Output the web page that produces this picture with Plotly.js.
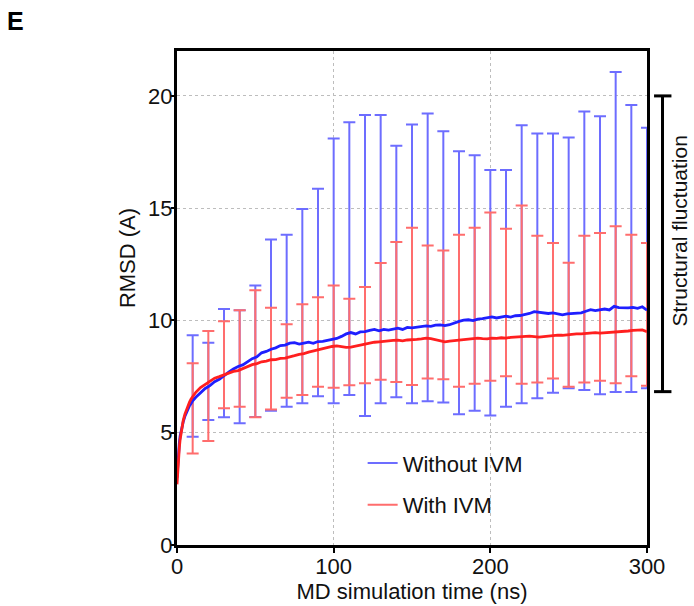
<!DOCTYPE html>
<html>
<head>
<meta charset="utf-8">
<script src="https://cdn.plot.ly/plotly-3.0.1.min.js"></script>
<style>html,body{margin:0;padding:0;background:#fff;}#chart{width:694px;height:606px;}</style>
</head>
<body>
<div id="chart"></div>
<script>
// Time (ns) for the mean RMSD curves
var time = [0,0.5,1,1.5,2,3,4,5,6,7,8,9,10,
  12,15,18,21,24,27,30,33,36,39,42,45,48,51,54,57,60,63,66,69,72,75,78,81,84,87,90,93,96,99,
  102,105,108,111,114,117,120,123,126,129,132,135,138,141,144,147,150,153,156,159,162,165,168,171,174,177,180,
  183,186,189,192,195,198,201,204,207,210,213,216,219,222,225,228,231,234,237,240,243,246,249,252,255,258,
  261,264,267,270,273,276,279,282,285,288,291,294,297,300];

// Mean RMSD, without IVM
var rmsdWithout = [3.0,3.7,4.2,4.55,4.85,5.2,5.5,5.72,5.9,6.05,6.2,6.3,6.42,
  6.58,6.78,6.97,7.1,7.27,7.38,7.56,7.7,7.84,7.95,8.02,8.16,8.3,8.38,8.56,8.62,8.72,8.78,8.88,8.9,8.99,9.01,8.95,8.99,9.03,8.98,9.06,9.07,9.12,9.14,
  9.2,9.29,9.4,9.46,9.4,9.49,9.5,9.56,9.6,9.54,9.6,9.57,9.63,9.66,9.6,9.69,9.67,9.71,9.73,9.76,9.74,9.79,9.8,9.77,9.81,9.9,9.96,
  10.01,10.03,9.99,10.06,10.08,10.13,10.16,10.11,10.15,10.19,10.15,10.21,10.22,10.26,10.31,10.39,10.36,10.35,10.31,10.34,10.29,10.25,10.29,10.31,10.3,10.34,
  10.41,10.48,10.44,10.49,10.51,10.47,10.63,10.57,10.55,10.56,10.58,10.54,10.61,10.46];

// Mean RMSD, with IVM
var rmsdWith = [2.7,3.4,3.95,4.35,4.7,5.2,5.55,5.82,6.02,6.2,6.36,6.5,6.6,
  6.8,7.01,7.16,7.3,7.43,7.5,7.58,7.64,7.73,7.77,7.86,7.94,8.03,8.08,8.16,8.19,8.25,8.26,8.31,8.32,8.39,8.43,8.49,8.52,8.59,8.64,8.71,8.75,8.8,8.84,
  8.87,8.82,8.8,8.81,8.86,8.91,8.96,8.98,9.03,9.05,9.08,9.1,9.11,9.12,9.09,9.13,9.13,9.16,9.18,9.21,9.19,9.14,9.08,9.05,9.08,9.1,9.12,
  9.14,9.15,9.18,9.21,9.19,9.18,9.21,9.2,9.23,9.21,9.25,9.27,9.28,9.31,9.3,9.28,9.26,9.28,9.31,9.33,9.35,9.34,9.37,9.38,9.4,9.4,
  9.42,9.45,9.46,9.44,9.45,9.46,9.49,9.5,9.51,9.53,9.56,9.56,9.58,9.5];

// Fluctuation ranges (error bars) every 10 ns
var barTime = [10,20,30,40,50,60,70,80,90,100,110,120,130,140,150,160,170,180,190,200,210,220,230,240,250,260,270,280,290,300];
var withoutHigh = [9.34,9.01,10.51,10.45,11.56,13.61,13.82,14.96,15.87,18.1,18.83,19.15,19.15,17.78,18.73,19.22,18.43,17.54,17.36,16.7,16.7,18.69,18.33,18.33,18.15,19.31,19.09,21.06,19.59,18.58];
var withoutLow  = [4.82,5.57,5.69,5.42,5.7,5.98,6.16,6.31,6.62,6.31,6.68,5.74,6.31,6.58,6.31,6.4,6.35,5.82,5.98,5.77,6.16,6.31,6.53,6.78,6.98,6.9,6.71,6.81,6.81,6.98];
var withHigh = [8.09,9.53,9.96,10.45,11.35,10.57,9.83,10.72,11.03,11.56,10.97,11.49,12.56,13.49,14.13,13.34,13.12,13.82,14.13,14.81,14.08,15.12,13.77,13.45,12.57,13.77,13.9,14.2,13.82,13.45];
var withLow  = [4.08,4.63,6.09,6.16,5.69,6.03,6.56,6.68,7.05,7.0,7.11,7.2,7.36,7.26,7.12,7.42,7.38,7.05,7.18,7.32,7.51,7.18,7.24,7.42,7.05,7.24,7.32,7.2,7.51,7.09];

var seriesNames = ["Without IVM", "With IVM"];
var fluctuationRange = [6.83, 20];
var fluctuationLabelY = 14.0;

function mid(lo, hi){ return lo.map(function(v,i){ return (v + hi[i]) / 2; }); }
function half(lo, hi){ return lo.map(function(v,i){ return (hi[i] - v) / 2; }); }

var blueBar = '#6d6dff', redBar = '#ff6d6d', blueLine = '#1f1fff', redLine = '#ff1f1f';
var FONT = 'Arial, "Liberation Sans", sans-serif';

var traces = [
  {x: barTime, y: mid(withoutLow, withoutHigh), type: 'scatter', mode: 'markers',
   marker: {size: 1, opacity: 0}, showlegend: false, hoverinfo: 'skip',
   error_y: {type: 'data', symmetric: true, array: half(withoutLow, withoutHigh), color: blueBar, thickness: 2, width: 6}},
  {x: barTime, y: mid(withLow, withHigh), type: 'scatter', mode: 'markers',
   marker: {size: 1, opacity: 0}, showlegend: false, hoverinfo: 'skip',
   error_y: {type: 'data', symmetric: true, array: half(withLow, withHigh), color: redBar, thickness: 2, width: 6}},
  {x: time, y: rmsdWithout, type: 'scatter', mode: 'lines', line: {color: blueLine, width: 2.8}, showlegend: false},
  {x: time, y: rmsdWith, type: 'scatter', mode: 'lines', line: {color: redLine, width: 2.8}, showlegend: false},
  {x: [null], y: [null], type: 'scatter', mode: 'lines', name: seriesNames[0], legendgroup: 'a', line: {color: blueBar, width: 2}},
  {x: [null], y: [null], type: 'scatter', mode: 'lines', name: seriesNames[1], legendgroup: 'b', line: {color: redBar, width: 2}}
];

var axisCommon = {
  showline: true, linecolor: '#000', linewidth: 3, mirror: true,
  ticks: 'outside', ticklen: 5, tickwidth: 2, tickcolor: '#000',
  showgrid: true, gridcolor: '#bdbdbd', griddash: 'dot', gridwidth: 1,
  zeroline: false, tickfont: {family: FONT, size: 22, color: '#111'}
};

var layout = {
  width: 694, height: 606,
  margin: {l: 177, r: 47, t: 51, b: 61, pad: 0},
  paper_bgcolor: '#fff', plot_bgcolor: '#fff',
  font: {family: FONT, color: '#111'},
  xaxis: Object.assign({}, axisCommon, {
    range: [0, 300], tickvals: [0, 100, 200, 300], ticktext: ['0', '100', '200', '300'],
    ticklabelstandoff: -5,
    title: {text: 'MD simulation time (ns)', font: {family: FONT, size: 22, color: '#111'}, standoff: 0}
  }),
  yaxis: Object.assign({}, axisCommon, {
    range: [0, 22], tickvals: [0, 5, 10, 15, 20], ticktext: ['0', '5', '10', '15', '20'],
    ticklen: 3, ticklabelstandoff: -6
  }),
  showlegend: true,
  legend: {x: 0.395, y: 0.208, xanchor: 'left', yanchor: 'top', bgcolor: 'rgba(0,0,0,0)',
    font: {family: FONT, size: 22, color: '#111'}, traceorder: 'grouped', tracegroupgap: 10},
  shapes: [
    {type: 'line', xref: 'paper', yref: 'y', x0: 1.033, x1: 1.033, y0: fluctuationRange[0], y1: fluctuationRange[1], line: {color: '#000', width: 3}},
    {type: 'line', xref: 'paper', yref: 'y', x0: 1.015, x1: 1.052, y0: fluctuationRange[1], y1: fluctuationRange[1], line: {color: '#000', width: 3}},
    {type: 'line', xref: 'paper', yref: 'y', x0: 1.015, x1: 1.052, y0: fluctuationRange[0], y1: fluctuationRange[0], line: {color: '#000', width: 3}}
  ],
  annotations: [
    {text: 'Structural fluctuation', xref: 'paper', yref: 'y', x: 1.07, y: fluctuationLabelY,
     textangle: -90, showarrow: false, xanchor: 'center', yanchor: 'middle', font: {family: FONT, size: 21, color: '#111'}},
    {text: 'RMSD (A)', xref: 'paper', yref: 'paper', x: -0.104, y: 0.581,
     textangle: -90, showarrow: false, xanchor: 'center', yanchor: 'middle', font: {family: FONT, size: 22, color: '#111'}},
    {text: '<b>E</b>', xref: 'paper', yref: 'paper', x: -0.343, y: 1.061, showarrow: false,
     xanchor: 'center', yanchor: 'middle', font: {family: FONT, size: 25, color: '#000'}}
  ]
};

Plotly.newPlot('chart', traces, layout, {displayModeBar: false, staticPlot: true});
</script>
</body>
</html>
